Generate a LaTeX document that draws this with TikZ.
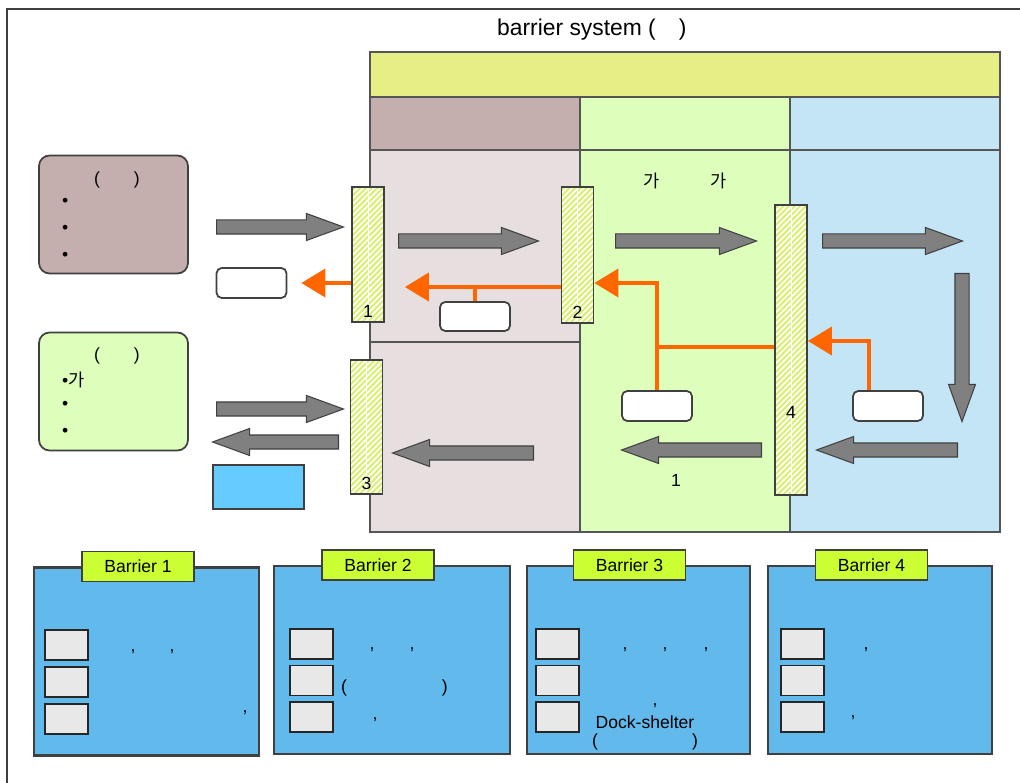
\documentclass[tikz,border=0pt]{standalone}
\usepackage{fontspec}
\setmainfont{Liberation Sans}
\newfontfamily\krfont{Noto Sans CJK KR}
\usepackage{xcolor}
\usepackage{tikz}
\usetikzlibrary{shapes,arrows.meta,positioning,patterns.meta,calc}

\definecolor{edge}{HTML}{404040}
\definecolor{cellgray}{HTML}{555555}
\definecolor{topyellow}{HTML}{E6EE86}
\definecolor{mauve}{HTML}{C5AEAE}
\definecolor{pinkgray}{HTML}{E7DFDF}
\definecolor{palegreen}{HTML}{DDFFBB}
\definecolor{paleblue}{HTML}{C3E5F6}
\definecolor{barfill}{HTML}{D8F070}
\definecolor{arrowgray}{HTML}{808080}
\definecolor{flowcol}{HTML}{FF6600}
\definecolor{panelblue}{HTML}{62B9EC}
\definecolor{tabgreen}{HTML}{CCFF33}
\definecolor{skyblue}{HTML}{66CCFF}
\definecolor{boxgray}{HTML}{E8E8E8}

\tikzstyle{cell} = [draw=cellgray, line width=0.75pt]
\tikzstyle{block} = [single arrow, draw=edge, fill=arrowgray, line width=0.6pt, anchor=tail, inner xsep=0pt, inner ysep=0.13cm, single arrow head extend=0.13cm, single arrow tip angle=40]
\tikzstyle{barrier} = [rectangle, draw=edge, line width=1pt, inner sep=0pt, minimum width=0.64cm, preaction={fill=barfill}, pattern={Lines[angle=45,distance=0.08cm,line width=0.035cm]}, pattern color=white, path picture={\draw[white, line width=0.5pt] (path picture bounding box.north) -- (path picture bounding box.south);}]
\tikzstyle{memo} = [rectangle, rounded corners=3pt, draw=edge, line width=1pt, fill=white, minimum width=1.4cm, minimum height=0.6cm]
\tikzstyle{flowline} = [draw=flowcol, line width=0.08cm]
\tikzstyle{flowarrow} = [flowline, -{Triangle[length=0.48cm, width=0.56cm]}]
\tikzstyle{srcbox} = [rectangle, rounded corners=6pt, draw=edge, line width=1pt, minimum width=2.98cm, minimum height=2.36cm]
\tikzstyle{panel} = [rectangle, draw=edge, line width=1.2pt, fill=panelblue, minimum height=3.76cm]
\tikzstyle{tabbox} = [rectangle, draw=edge, line width=1pt, fill=tabgreen, minimum width=2.24cm, minimum height=0.6cm]
\tikzstyle{itembox} = [rectangle, draw=black!85, line width=1pt, fill=boxgray, minimum width=0.86cm, minimum height=0.6cm]

\begin{document}
\begin{tikzpicture}[x=0.02cm, y=-0.02cm, font=\fontsize{10}{12}\selectfont, node distance=0.1cm]
    \useasboundingbox (0,0) rectangle (1020,783);
    \draw[edge, line width=1.2pt] (7,800) -- (7,9) -- (1040,9);

    \node[anchor=west, font=\fontsize{13}{15}\selectfont] (title) at (491,30) {barrier system (\hspace{0.46cm})};

    % zone table
    \filldraw[cell, fill=topyellow] (370,52) rectangle (1000,97);
    \filldraw[cell, fill=mauve] (370,97) rectangle (580,150);
    \filldraw[cell, fill=palegreen] (580,97) rectangle (790,150);
    \filldraw[cell, fill=paleblue] (790,97) rectangle (1000,150);
    \filldraw[cell, fill=pinkgray] (370,150) rectangle (580,342);
    \filldraw[cell, fill=pinkgray] (370,342) rectangle (580,532);
    \filldraw[cell, fill=palegreen] (580,150) rectangle (790,532);
    \filldraw[cell, fill=paleblue] (790,150) rectangle (1000,532);
    \node[font=\krfont\fontsize{10}{12}\selectfont] (g1) at (652,181) {가};
    \node[font=\krfont\fontsize{10}{12}\selectfont] (g2) at (719,181) {가};

    % sources on the left
    \node[srcbox, fill=mauve] (hazard) at (113.5,214.5) {};
    \node (hazardhead) at (117,180) {(\hspace{0.68cm})};
    \node[anchor=west] (h1) at (56,202) {•};
    \node[anchor=west] (h2) at (56,229) {•};
    \node[anchor=west] (h3) at (56,256) {•};
    \node[srcbox, fill=palegreen] (target) at (113.5,391.5) {};
    \node (targethead) at (117,356) {(\hspace{0.68cm})};
    \node[anchor=west] (t1) at (56,380) {•{\krfont 가}};
    \node[anchor=west] (t2) at (56,405) {•};
    \node[anchor=west] (t3) at (56,432) {•};

    % gray flow
    \node[block, minimum height=2.54cm] (a1) at (216,227) {};
    \node[block, minimum height=2.8cm] (a2) at (398,241) {};
    \node[block, minimum height=2.82cm] (a3) at (615,241) {};
    \node[block, minimum height=2.8cm] (a4) at (822,241) {};
    \node[block, minimum height=2.96cm, shape border rotate=270, inner xsep=0.13cm, inner ysep=0pt] (a5) at (962,273) {};
    \node[block, minimum height=2.82cm, shape border rotate=180] (a6) at (958,450) {};
    \node[block, minimum height=2.8cm, shape border rotate=180] (a7) at (762,450) {};
    \node[block, minimum height=2.82cm, shape border rotate=180] (a8) at (534,453) {};
    \node[block, minimum height=2.54cm] (a9) at (216,409) {};
    \node[block, minimum height=2.52cm, shape border rotate=180] (a10) at (339,442) {};
    \node (f1) at (676,480) {1};

    \node[rectangle, draw=edge, line width=1pt, fill=skyblue, minimum width=1.82cm, minimum height=0.88cm] (sky) at (258.5,487) {};

    % barriers
    \node[barrier, minimum height=2.7cm] (b1) at (368,254.5) {};
    \node[barrier, minimum height=2.72cm] (b2) at (577.5,255) {};
    \node[barrier, minimum height=2.68cm] (b3) at (366.5,427) {};
    \node[barrier, minimum height=5.8cm] (b4) at (791,350) {};

    % memos and orange feedback
    \node[memo] (w1) at (251.5,283) {};
    \node[memo, minimum height=0.58cm] (w2) at (475,316.5) {};
    \node[memo] (w3) at (657,406) {};
    \node[memo] (w4) at (888,406) {};
    \coordinate (j2) at (475,287);
    \coordinate (j3) at (657,283);
    \coordinate (k3) at (657,347);
    \coordinate (j4) at (869,341);
    \draw[flowarrow, shorten >=0.28cm] (b1.west |- w1.east) -- (w1.east);
    \draw[flowline] (w2.north) -- (j2);
    \draw[flowarrow, shorten >=0.4cm] (b2.west |- j2) -- (b1.east |- j2);
    \draw[flowarrow] (w3.north) |- (b2.east |- j3);
    \draw[flowline] (b4.west |- k3) -- (k3);
    \draw[flowarrow] (w4.north -| j4) |- (b4.east |- j4);

    \node[above=3pt of b1.south, inner sep=0pt] (n1) {1};
    \node[above=3pt of b2.south, inner sep=0pt] (n2) {2};
    \node[above=3pt of b3.south, inner sep=0pt] (n3) {3};
    \node (n4) at (791,412) {4};

    % barrier panels
    \node[panel, minimum width=4.5cm] (p1) at (146.5,661.5) {};
    \node[tabbox] (tab1) at ([xshift=-0.17cm]p1.north) {Barrier 1};
    \node[itembox, anchor=north west] (q11) at ([xshift=0.22cm, yshift=-1.26cm]p1.north west) {};
    \node[itembox, below=of q11] (q12) {};
    \node[itembox, below=of q12] (q13) {};
    \node (c11) at (133,652) {,};
    \node (c12) at (172,652) {,};
    \node (c13) at (245,713) {,};

    \node[panel, minimum width=4.72cm] (p2) at (392,660) {};
    \node[tabbox] (tab2) at ([xshift=-0.28cm]p2.north) {Barrier 2};
    \node[itembox, anchor=north west] (q21) at ([xshift=0.32cm, yshift=-1.26cm]p2.north west) {};
    \node[itembox, below=of q21] (q22) {};
    \node[itembox, below=of q22] (q23) {};
    \node (c21) at (372,650) {,};
    \node (c22) at (412,650) {,};
    \node (c23) at (394.5,688) {(\hspace{1.9cm})};
    \node (c24) at (375,720) {,};

    \node[panel, minimum width=4.46cm] (p3) at (638.5,660) {};
    \node[tabbox] (tab3) at ([xshift=-0.18cm]p3.north) {Barrier 3};
    \node[itembox, anchor=north west] (q31) at ([xshift=0.18cm, yshift=-1.26cm]p3.north west) {};
    \node[itembox, below=of q31] (q32) {};
    \node[itembox, below=of q32] (q33) {};
    \node (c31) at (625,650) {,};
    \node (c32) at (665,650) {,};
    \node (c33) at (706,650) {,};
    \node (c34) at (655,706) {,};
    \node (dock) at (645,722) {Dock-shelter};
    \node (c35) at (645,742) {(\hspace{1.88cm})};

    \node[panel, minimum width=4.48cm] (p4) at (880,660) {};
    \node[tabbox] (tab4) at ([xshift=-0.17cm]p4.north) {Barrier 4};
    \node[itembox, anchor=north west] (q41) at ([xshift=0.26cm, yshift=-1.26cm]p4.north west) {};
    \node[itembox, below=of q41] (q42) {};
    \node[itembox, below=of q42] (q43) {};
    \node (c41) at (866,650) {,};
    \node (c42) at (853,718) {,};
\end{tikzpicture}
\end{document}
